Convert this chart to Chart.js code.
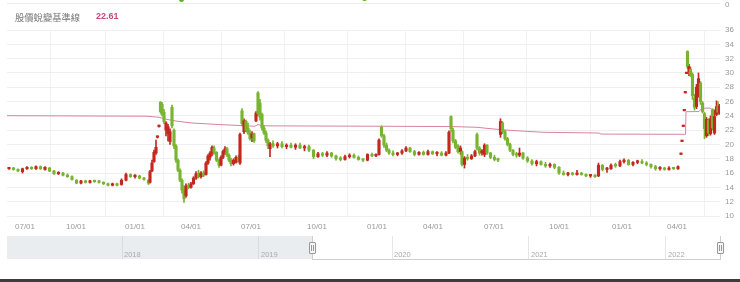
<!DOCTYPE html>
<html><head><meta charset="utf-8">
<script src="https://cdn.jsdelivr.net/npm/chart.js@4.4.1/dist/chart.umd.min.js"></script>
<style>
html,body{margin:0;padding:0;background:#fff;}
#wrap{position:relative;width:740px;height:282px;overflow:hidden;font-family:"Liberation Sans",Arial,sans-serif;background:#fff;}
#c{position:absolute;left:0;top:0;}
.abs{position:absolute;}
.yr{position:absolute;font-size:7.5px;color:#aaa;line-height:9px;}
.handle{position:absolute;width:5px;height:10px;background:#f4f4f4;border:1px solid #999;border-radius:1px;}
.handle:after{content:"";position:absolute;left:1px;top:2px;width:1px;height:6px;border-left:1px solid #999;border-right:1px solid #999;box-sizing:content-box;}
</style></head><body>
<div id="wrap">
<canvas id="c" width="740" height="282"></canvas>
<div class="abs" style="left:7px;top:3px;width:713px;height:1px;background:#ececec"></div>
<div class="abs" style="left:179px;top:-3px;width:5px;height:5px;border-radius:50%;background:#5fae1e"></div>
<div class="abs" style="left:362px;top:-4px;width:5px;height:5px;border-radius:50%;background:#5fae1e"></div>
<div class="abs" style="left:725px;top:0px;font-size:8px;color:#999;line-height:10px">0</div>
<div id="legend" class="abs" style="left:15px;top:10px;line-height:12px;white-space:nowrap">
  <span id="lgName" style="font-family:'Noto Sans CJK TC','Noto Sans CJK SC',sans-serif;font-size:9.3px;color:#777"></span>
  <span id="lgVal" style="position:absolute;left:81px;top:0;font-family:'Liberation Sans',Arial,sans-serif;font-size:9px;font-weight:bold;color:#c4487a"></span>
</div>
<div id="nav"></div>
<div class="abs" style="left:0;top:279px;width:740px;height:3px;background:#3c3c3c"></div>
</div>
<script>
// ---- data ----
const days = [
 2,6.5,11,15.5,20,24.5,29,33.5,38,42.5,47,51.5,56,60.5,65,69.5,74,78.5,83,87.5,92,96.5,101,105.5,110,114.5,119,123.5,128,132.5,137,141.5,
 143,145,147,149,150.5,152,153.5,155,157,159,161,163,165,167,169,171,173,175,177,179,181.5,184,186.5,189,191.5,194,196.5,199,201,203,205,207,209.5,212,214,216,218,220,222,224,226.5,229,231.5,233,235,237,239,241,243,245,247,249,251,253,255,257,259,261,263,
 266,270.5,275,279.5,284,288.5,293,297.5,302,306.5,311,315.5,320,324.5,329,333.5,338,342.5,347,351.5,356,360.5,365,369,
 372,374.5,377,379.5,382,386,390.5,395,399,403,407.5,412,416.5,421,425.5,430,434.5,439,442,444,446,448.5,451,453.5,455,457.5,460.5,464.5,468,470,472.5,475,477.5,480,483.5,487.5,491,493.5,495.5,498,500.5,503,506,509.5,512.5,
 516,520.5,525,529.5,534,538.5,543,547.5,552,556.5,561,565.5,570,574.5,579,583.5,588,591.5,595.5,600,604,608.5,613,617,621.5,626,630.5,635,639.5,644,648.5,653,657.5,662,666.5,671,
 674,675,676.3,677.3,678.3,679.5,680.5,682,683.5,685.5,687.5,689.5,691.5,693.5,695.5,697.5,699.5,701.5,703.5,705.5,707.5,709.5,711,712.5
];
const opens = [
 16.6,16.7,16.5,16.2,16.6,16.8,16.6,16.9,16.5,16.7,16.3,15.9,16.0,15.7,15.5,15.0,14.6,14.9,14.7,14.9,14.8,14.7,14.5,14.3,14.4,14.4,15.0,15.8,15.5,15.6,15.3,15.0,
 14.7,16.3,17.6,18.8,21.0,22.5,25.9,25.6,24.5,22.0,21.5,20.4,25.2,22.0,19.8,17.8,16.4,15.0,13.6,12.8,14.3,14.0,14.5,15.3,16.0,15.5,16.0,15.8,17.4,18.2,18.8,19.5,18.9,17.8,17.1,18.2,19.0,19.4,18.5,17.8,17.3,17.5,18.2,17.4,24.7,21.8,23.2,22.3,21.6,20.9,21.5,23.3,27.2,25.8,24.2,22.3,21.6,20.6,19.4,
 20.1,19.8,20.1,19.7,19.9,19.6,19.9,19.5,19.7,19.2,18.3,18.7,18.5,18.8,18.4,18.0,17.9,18.3,18.5,18.2,17.9,17.8,18.6,18.4,
 18.6,22.4,21.2,19.9,19.2,18.8,18.6,18.8,19.1,19.5,19.0,18.6,18.9,18.6,19.0,18.7,18.8,18.5,18.8,23.9,22.0,20.5,19.8,19.0,19.0,17.2,18.1,18.0,18.4,21.4,19.5,18.8,18.6,19.9,18.8,18.2,17.9,21.4,23.0,21.8,20.8,20.0,19.2,18.6,18.5,
 18.8,18.1,17.7,17.3,17.6,17.2,17.0,17.2,16.8,16.0,15.8,16.0,15.8,16.0,15.8,15.6,15.7,15.6,17.1,16.5,16.6,17.1,17.0,17.6,17.8,17.2,17.5,17.6,17.4,17.2,16.9,16.6,16.7,16.5,16.7,16.6,
 18.6,20.4,22.5,24.7,27.2,29.9,33.0,30.2,30.5,29.8,26.5,25.3,27.2,28.6,25.8,24.3,21.2,23.4,21.5,24.8,21.6,24.2,25.4,24.4
];
const highs = [
 16.8,16.8,16.6,16.7,16.9,16.9,17.0,17.0,16.9,16.8,16.4,16.2,16.1,15.9,15.6,15.1,15.0,15.0,15.0,15.0,15.0,14.8,14.6,14.6,14.6,15.2,16.0,15.9,15.8,15.7,15.4,15.1,
 16.4,17.8,19.2,20.6,21.2,22.7,26.0,25.9,24.9,23.2,22.8,22.2,25.5,22.2,20.0,18.0,16.6,15.2,14.2,14.5,14.6,14.7,15.5,16.2,16.4,16.2,16.3,17.6,18.6,19.0,19.8,19.8,19.0,18.0,18.4,19.2,19.7,19.6,18.7,18.1,18.0,18.4,18.5,21.6,25.0,23.6,23.4,23.0,22.0,21.8,21.6,24.6,27.4,26.3,24.4,22.6,21.9,20.8,20.3,
 20.5,20.3,20.4,20.1,20.2,20.1,20.2,19.9,19.9,19.3,18.9,18.9,19.0,18.9,18.5,18.3,18.5,18.7,18.7,18.4,18.0,18.7,18.8,18.7,
 20.8,22.6,21.4,20.2,19.4,19.1,18.9,19.3,19.7,19.6,19.2,19.0,19.1,19.2,19.1,19.0,19.0,19.0,21.9,24.0,22.3,20.7,20.0,19.8,19.1,18.3,18.6,18.6,19.2,21.6,19.7,19.3,20.1,20.0,18.9,18.5,18.1,23.6,23.2,22.0,21.0,20.2,19.3,18.9,19.5,
 18.9,18.3,17.9,17.8,17.7,17.5,17.4,17.3,16.9,16.3,16.1,16.1,16.4,16.1,15.9,15.8,15.8,17.4,17.2,16.8,17.3,17.4,17.8,18.0,17.9,17.6,17.8,17.9,17.6,17.3,17.1,16.9,16.8,16.9,16.8,17.0,
 18.8,20.6,22.7,24.9,27.4,30.1,33.1,31.2,30.8,30.0,27.0,28.4,30.0,28.8,26.0,24.5,23.8,23.6,24.0,25.0,24.8,26.1,26.0,25.6
];
const lows = [
 16.5,16.4,16.2,16.0,16.5,16.5,16.5,16.5,16.4,16.2,15.8,15.8,15.6,15.4,15.0,14.5,14.5,14.6,14.6,14.7,14.6,14.4,14.2,14.2,14.2,14.3,14.9,15.4,15.3,15.2,15.0,14.4,
 14.6,16.2,17.5,18.6,20.9,22.4,24.4,24.0,22.9,21.2,20.5,20.0,22.3,19.4,17.5,16.2,14.8,13.2,11.9,12.6,13.8,13.9,14.4,15.1,15.3,15.3,15.5,15.7,17.2,17.8,18.4,18.6,17.6,16.8,17.0,18.0,18.6,18.3,17.6,17.0,17.1,17.4,17.6,17.2,22.6,21.5,21.8,21.4,20.6,20.4,20.3,23.2,24.0,23.4,22.0,21.4,20.3,19.4,18.3,
 19.6,19.5,19.5,19.4,19.5,19.3,19.4,19.1,19.0,18.0,18.2,18.3,18.3,18.2,17.8,17.7,17.8,18.1,18.1,17.8,17.6,17.7,18.3,18.3,
 18.5,21.0,19.6,19.0,18.6,18.4,18.4,18.6,19.0,18.9,18.4,18.5,18.5,18.5,18.6,18.4,18.4,18.4,18.7,21.8,20.2,19.4,18.8,18.6,17.0,16.7,17.8,17.9,18.3,19.2,18.5,18.5,18.3,18.6,18.0,17.7,17.6,21.0,21.5,20.6,19.8,19.0,18.4,18.2,18.3,
 17.9,17.5,17.1,17.0,17.1,16.8,16.8,16.6,15.8,15.7,15.6,15.7,15.7,15.7,15.5,15.4,15.4,15.5,16.3,16.1,16.5,16.8,16.9,17.4,17.1,17.0,17.3,17.3,17.0,16.7,16.4,16.4,16.4,16.4,16.5,16.5,
 18.6,20.4,22.5,24.7,27.2,29.9,30.6,29.6,29.5,26.3,24.8,25.0,26.6,25.6,24.4,20.8,21.0,21.2,21.3,22.0,21.4,24.0,24.2,24.2
];
const closes = [
 16.7,16.5,16.3,16.6,16.8,16.6,16.9,16.6,16.8,16.3,15.9,16.1,15.7,15.5,15.1,14.6,14.9,14.7,14.9,14.8,14.7,14.5,14.3,14.5,14.3,15.0,15.8,15.5,15.6,15.3,15.1,14.6,
 16.2,17.4,18.9,19.6,21.1,22.6,24.6,24.2,23.2,23.0,22.5,21.8,22.6,19.8,17.8,16.4,15.0,13.6,12.4,14.2,14.0,14.5,15.3,15.9,15.5,16.0,15.7,17.4,18.4,18.8,19.6,18.9,17.8,17.1,18.2,19.0,19.4,18.5,17.8,17.3,17.8,18.2,17.8,21.4,22.9,23.3,22.0,21.6,20.8,21.5,20.5,24.4,24.3,23.8,22.3,21.6,20.6,19.8,20.1,
 19.8,20.1,19.7,19.9,19.6,19.9,19.5,19.7,19.2,18.3,18.7,18.5,18.8,18.4,18.0,17.9,18.3,18.5,18.2,17.9,17.8,18.6,18.4,18.6,
 20.6,21.2,19.9,19.2,18.8,18.6,18.8,19.1,19.5,19.0,18.6,18.9,18.6,19.0,18.7,18.8,18.5,18.8,21.7,22.2,20.5,19.6,19.0,19.5,17.2,18.1,18.0,18.4,19.0,19.5,18.8,19.1,19.9,18.8,18.2,17.9,17.8,23.2,21.8,20.8,20.0,19.2,18.6,18.5,18.8,
 18.1,17.7,17.3,17.6,17.2,17.0,17.2,16.8,16.0,15.8,16.0,15.8,16.0,15.8,15.6,15.7,15.5,17.1,16.5,16.6,17.1,17.0,17.6,17.8,17.2,17.5,17.6,17.4,17.2,16.9,16.6,16.7,16.5,16.7,16.6,16.9,
 18.8,20.6,22.7,24.9,27.4,30.1,30.9,30.9,29.8,26.8,25.2,28.0,29.2,26.0,24.6,22.2,23.5,21.6,23.6,22.3,23.9,25.3,24.5,25.4
];
const baseDays   = [0,140,152,160,170,185,210,240,248,251,254,262,370,445,470,480,500,536,592,594,678.5,679,692,695,703,705,713];
const baseValues = [24.02,23.95,23.8,23.5,23.25,23.0,22.8,22.6,22.55,22.8,22.65,22.6,22.55,22.5,22.4,22.25,22.0,21.7,21.6,21.45,21.42,24.58,24.6,25.05,25.1,24.85,24.8];
const xTickDays   = [18,69,128,184,244,310,370,426,487,552,615,670];
const xTickLabels = ['07/01','10/01','01/01','04/01','07/01','10/01','01/01','04/01','07/01','10/01','01/01','04/01'];
const yRange = [10, 36];
const yStep = 2;
const legendName = '股價蛻變基準線';
const legendValue = '22.61';
const navYears = ['2018','2019','2020','2021','2022'];

// ---- layout (not data) ----
const navYearLeft = [124,261,394,531,668];
const navDivLeft = [122,258,392,528,665];

document.getElementById('lgName').textContent = legendName;
document.getElementById('lgVal').textContent = legendValue;

const nav = document.getElementById('nav');
let h = '<div class="abs" style="left:7px;top:236px;width:305px;height:23px;background:#eaedf0"></div>';
navDivLeft.forEach((x,i)=>{ h += `<div class="abs" style="left:${x}px;top:236px;width:1px;height:23px;background:${i<2?'#d8dce0':'#e6e6e6'}"></div>`; });
navYears.forEach((y,i)=>{ h += `<div class="yr" style="left:${navYearLeft[i]}px;top:250px">${y}</div>`; });
h += '<div class="abs" style="left:312px;top:259px;width:409px;height:1px;background:#cfcfcf"></div>';
h += '<div class="abs" style="left:312px;top:236px;width:1px;height:23px;background:#cfcfcf"></div>';
h += '<div class="abs" style="left:720px;top:236px;width:1px;height:24px;background:#cfcfcf"></div>';
h += '<div class="handle" style="left:309px;top:242px"></div>';
h += '<div class="handle" style="left:717px;top:242px"></div>';
nav.innerHTML = h;

const UP = '#c4271f', DOWN = '#78b430';
const colorOf = i => closes[i] >= opens[i] ? UP : DOWN;
const wickData = days.map((d,i)=>({x:d, y:[lows[i], highs[i]]}));
const bodyData = days.map((d,i)=>({x:d, y:[opens[i], closes[i]]}));
const baseData = baseDays.map((d,i)=>({x:d, y:baseValues[i]}));

const FONT = "'Liberation Sans', Arial, sans-serif";
new Chart(document.getElementById('c'), {
  type: 'bar',
  data: { datasets: [
    { type:'line', data:baseData, borderColor:'#d9829f', borderWidth:1, pointRadius:0, tension:0, order:3 },
    { type:'bar', data:wickData, backgroundColor:c=>colorOf(c.dataIndex), barThickness:1, grouped:false, order:2 },
    { type:'bar', data:bodyData, backgroundColor:c=>colorOf(c.dataIndex), barThickness:2.5, minBarLength:1.5, grouped:false, order:1 }
  ]},
  options: {
    responsive:false, animation:false, devicePixelRatio:1, events:[],
    layout:{ padding:{ left:7, top:30, right:0, bottom:46 } },
    plugins:{ legend:{display:false}, tooltip:{enabled:false} },
    scales:{
      x:{ type:'linear', min:0, max:713, offset:false,
          grid:{ color:'#f1f1f1', drawTicks:false }, border:{display:false},
          afterBuildTicks: s => { s.ticks = xTickDays.map(v=>({value:v})); },
          ticks:{ autoSkip:false, maxRotation:0, padding:6, color:'#999', font:{size:8, family:FONT},
                  callback:(v,i)=>xTickLabels[i] },
          afterFit: s => { s.height = 20; } },
      y:{ position:'right', min:yRange[0], max:yRange[1],
          grid:{ color:'#efefef', drawTicks:false }, border:{display:false},
          ticks:{ stepSize:yStep, padding:5, color:'#999', font:{size:8, family:FONT} },
          afterFit: s => { s.width = 20; } }
    }
  }
});
</script>
</body></html>
